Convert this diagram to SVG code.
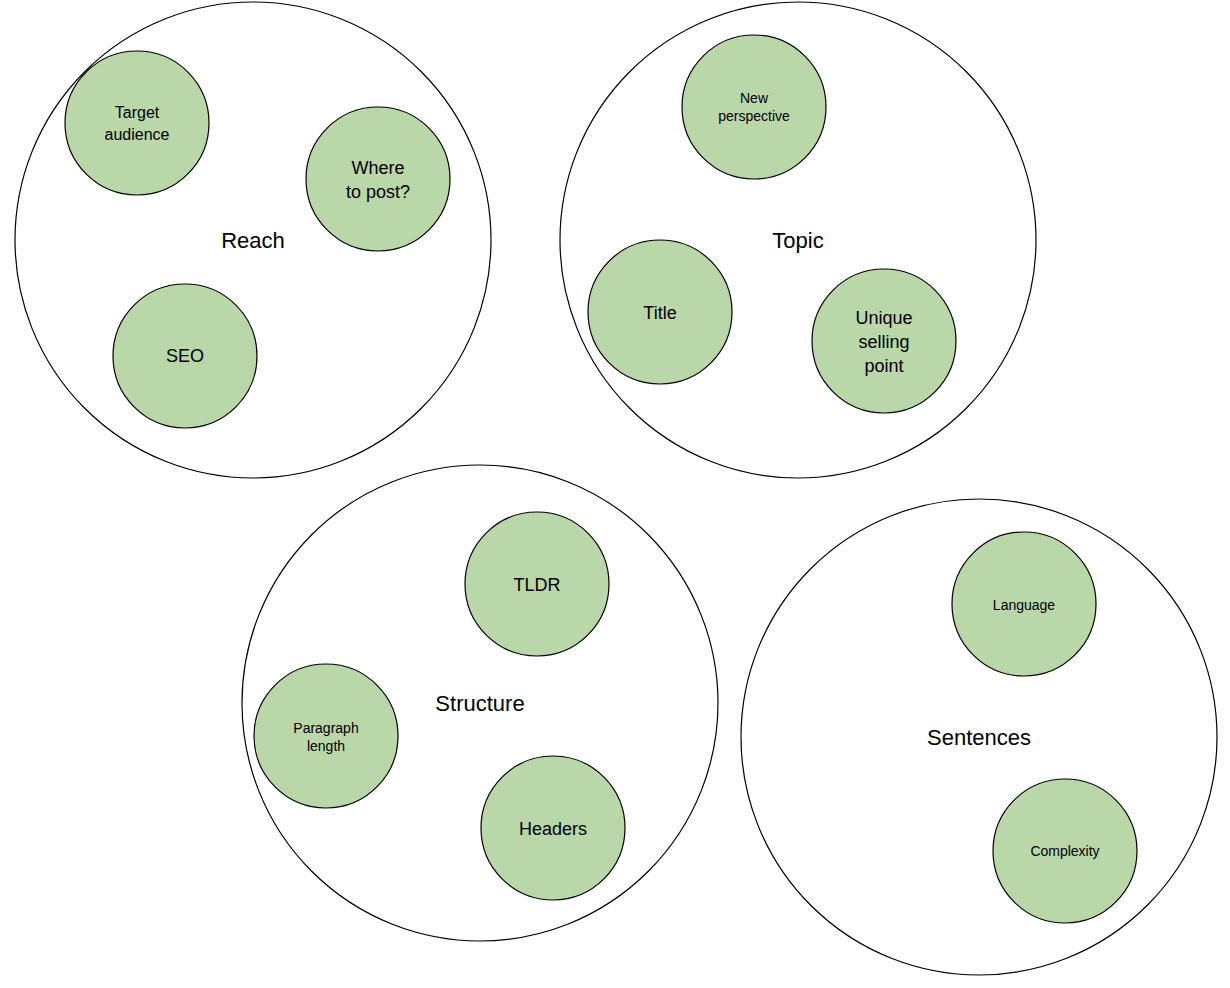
<svg xmlns="http://www.w3.org/2000/svg" width="1230" height="988" viewBox="0 0 1230 988">
<style>
.big{fill:#fff;stroke:#000;stroke-width:1.2}
.sm{fill:#b9d7a8;stroke:#000;stroke-width:1.2}
text{font-family:"Liberation Sans",Arial,sans-serif;text-anchor:middle;fill:#000}
.bl{font-size:22px}
.l{font-size:18px}
.m{font-size:16px}
.s{font-size:14px}
</style>
<rect width="1230" height="988" fill="#fff"/>
<g id="reach"><circle class="big" cx="253" cy="240" r="238"/><text class="bl" x="253" y="248">Reach</text></g>
<g id="topic"><circle class="big" cx="798" cy="240" r="238"/><text class="bl" x="798" y="248">Topic</text></g>
<g id="structure"><circle class="big" cx="480" cy="703" r="238"/><text class="bl" x="480" y="711">Structure</text></g>
<g id="sentences"><circle class="big" cx="979" cy="737" r="238"/><text class="bl" x="979" y="745">Sentences</text></g>
<g id="target"><circle class="sm" cx="137" cy="123" r="72"/><text class="m" x="137" y="118">Target</text><text class="m" x="137" y="140">audience</text></g>
<g id="where"><circle class="sm" cx="378" cy="179" r="72"/><text class="l" x="378" y="174">Where</text><text class="l" x="378" y="198">to post?</text></g>
<g id="seo"><circle class="sm" cx="185" cy="356" r="72"/><text class="l" x="185" y="362">SEO</text></g>
<g id="newp"><circle class="sm" cx="754" cy="107" r="72"/><text class="s" x="754" y="103">New</text><text class="s" x="754" y="121">perspective</text></g>
<g id="title"><circle class="sm" cx="660" cy="312" r="72"/><text class="l" x="660" y="319">Title</text></g>
<g id="usp"><circle class="sm" cx="884" cy="341" r="72"/><text class="l" x="884" y="324">Unique</text><text class="l" x="884" y="348">selling</text><text class="l" x="884" y="372">point</text></g>
<g id="tldr"><circle class="sm" cx="537" cy="584" r="72"/><text class="l" x="537" y="591">TLDR</text></g>
<g id="para"><circle class="sm" cx="326" cy="736" r="72"/><text class="s" x="326" y="733">Paragraph</text><text class="s" x="326" y="751">length</text></g>
<g id="headers"><circle class="sm" cx="553" cy="828" r="72"/><text class="l" x="553" y="835">Headers</text></g>
<g id="language"><circle class="sm" cx="1024" cy="604" r="72"/><text class="s" x="1024" y="610">Language</text></g>
<g id="complexity"><circle class="sm" cx="1065" cy="851" r="72"/><text class="s" x="1065" y="856">Complexity</text></g>
<g id="connectors"/>
</svg>
